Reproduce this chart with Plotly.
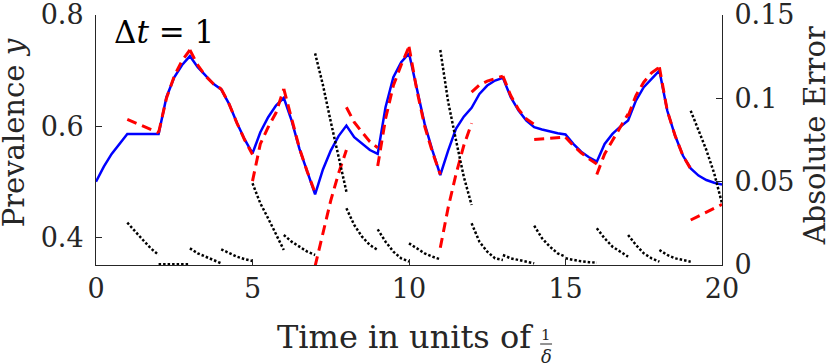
import numpy as np
import plotly.graph_objects as go

# time grid, quarter steps, 0..20
t_grid = np.round(np.arange(0, 20.001, 0.25), 2)

# exact solution (blue), read at quarter points
prevalence_exact = [
    0.500, 0.527, 0.550, 0.569, 0.586,
    0.586, 0.586, 0.586, 0.586,
    0.652, 0.688, 0.710, 0.726,
    0.706, 0.690, 0.676, 0.666,
    0.640, 0.606, 0.576, 0.551,
    0.589, 0.616, 0.637, 0.651,
    0.610, 0.559, 0.519, 0.477,
    0.522, 0.556, 0.582, 0.601,
    0.580, 0.568, 0.557, 0.550,
    0.634, 0.688, 0.715, 0.731,
    0.670, 0.604, 0.556, 0.512,
    0.556, 0.595, 0.617, 0.633,
    0.658, 0.673, 0.682, 0.687,
    0.652, 0.628, 0.610, 0.598,
    0.594, 0.590, 0.587, 0.585,
    0.568, 0.554, 0.544, 0.536,
    0.568, 0.586, 0.599, 0.610,
    0.646, 0.670, 0.685, 0.700,
    0.628, 0.583, 0.547, 0.524,
    0.511, 0.503, 0.498, 0.495,
]

# approximation (red dashed), one list per unit interval [k, k+1], 5 samples each
approx_start = list(range(1, 20))
prevalence_approx = [
    [0.612, 0.606, 0.600, 0.594, 0.588],
    [0.588, 0.650, 0.690, 0.718, 0.737],
    [0.737, 0.710, 0.690, 0.676, 0.667],
    [0.667, 0.640, 0.606, 0.575, 0.549],
    [0.501, 0.568, 0.598, 0.624, 0.667],
    [0.667, 0.615, 0.560, 0.518, 0.480],
    [0.348, 0.410, 0.466, 0.515, 0.557],
    [0.634, 0.607, 0.589, 0.572, 0.561],
    [0.528, 0.613, 0.673, 0.710, 0.743],
    [0.743, 0.665, 0.600, 0.553, 0.513],
    [0.381, 0.453, 0.513, 0.565, 0.605],
    [0.661, 0.674, 0.681, 0.686, 0.690],
    [0.690, 0.655, 0.630, 0.613, 0.603],
    [0.576, 0.577, 0.578, 0.579, 0.580],
    [0.580, 0.565, 0.552, 0.541, 0.532],
    [0.513, 0.550, 0.574, 0.597, 0.622],
    [0.618, 0.655, 0.679, 0.696, 0.706],
    [0.706, 0.628, 0.583, 0.547, 0.523],
    [0.431, 0.438, 0.445, 0.452, 0.459],
]

# absolute error (black dotted, right axis)
abs_error = [
    [0.0254, 0.020, 0.015, 0.010, 0.006],
    [0.0005, 0.0005, 0.0005, 0.0005, 0.0005],
    [0.010, 0.007, 0.005, 0.003, 0.001],
    [0.0094, 0.007, 0.005, 0.0035, 0.0024],
    [0.049, 0.037, 0.028, 0.018, 0.009],
    [0.018, 0.014, 0.011, 0.008, 0.006],
    [0.127, 0.108, 0.086, 0.065, 0.044],
    [0.034, 0.024, 0.017, 0.012, 0.009],
    [0.0214, 0.014, 0.008, 0.004, 0.002],
    [0.013, 0.010, 0.007, 0.005, 0.0034],
    [0.129, 0.098, 0.075, 0.053, 0.036],
    [0.025, 0.014, 0.008, 0.004, 0.003],
    [0.006, 0.004, 0.003, 0.002, 0.001],
    [0.0236, 0.016, 0.011, 0.007, 0.005],
    [0.004, 0.003, 0.0022, 0.0017, 0.0014],
    [0.022, 0.016, 0.011, 0.008, 0.005],
    [0.018, 0.012, 0.007, 0.004, 0.002],
    [0.009, 0.006, 0.004, 0.003, 0.002],
    [0.0926, 0.081, 0.069, 0.055, 0.037],
]

x_ticks = [0, 5, 10, 15, 20]
y_ticks = [0.4, 0.6, 0.8]
y2_ticks = [0, 0.05, 0.1, 0.15]
y2_ticktext = ['0', '0.05', '0.1', '0.15']


def segments(starts, values):
    xs, ys = [], []
    for k, vals in zip(starts, values):
        xs += [k + 0.25 * j for j in range(len(vals))] + [None]
        ys += list(vals) + [None]
    return xs, ys


FONT = "DejaVu Serif"
INK = '#262626'

fig = go.Figure()

fig.add_trace(go.Scatter(
    x=t_grid, y=prevalence_exact, mode='lines',
    line=dict(color='#0000ff', width=2.5), showlegend=False))

rx, ry = segments(approx_start, prevalence_approx)
fig.add_trace(go.Scatter(
    x=rx, y=ry, mode='lines', connectgaps=False,
    line=dict(color='#ff0000', width=3, dash='10px,6px'), showlegend=False))

ex, ey = segments(approx_start, abs_error)
fig.add_trace(go.Scatter(
    x=ex, y=ey, mode='lines', connectgaps=False, yaxis='y2',
    line=dict(color='black', width=2.5, dash='2.5px,2px'), showlegend=False))

axis_common = dict(
    showgrid=False, zeroline=False, showline=True, linecolor=INK, linewidth=1,
    ticks='inside', ticklen=6, tickcolor=INK, ticklabeloverflow='allow', automargin=False,
    tickfont=dict(family=FONT, size=27, color=INK),
)

fig.update_layout(
    width=830, height=364,
    margin=dict(l=96, r=108, t=15, b=99),
    plot_bgcolor='white', paper_bgcolor='white',
    xaxis=dict(range=[0, 20], tickvals=x_ticks, **axis_common),
    yaxis=dict(range=[0.35, 0.8], tickvals=y_ticks, ticklabelstandoff=6, **axis_common),
    yaxis2=dict(range=[0, 0.15], tickvals=y2_ticks, ticktext=y2_ticktext,
                overlaying='y', side='right', ticklabelstandoff=6, **axis_common),
)

ann_font = dict(family=FONT, size=29, color=INK)
fig.add_annotation(text="Δ<i>t</i> = 1", xref='paper', yref='paper', x=0.025, y=0.93,
                   xanchor='left', yanchor='middle', showarrow=False,
                   font=dict(family=FONT, size=31, color='black'))
fig.add_annotation(text="Prevalence <i>y</i>", xref='paper', yref='paper', x=-0.1305, y=0.528,
                   textangle=-90, xanchor='center', yanchor='middle', showarrow=False, font=ann_font)
fig.add_annotation(text="Absolute Error", xref='paper', yref='paper', x=1.149, y=0.516,
                   textangle=-90, xanchor='center', yanchor='middle', showarrow=False, font=ann_font)
fig.add_annotation(text="Time in units of", xref='paper', yref='paper', x=0.702, y=-0.288,
                   xanchor='right', yanchor='middle', showarrow=False,
                   font=dict(family=FONT, size=32, color=INK))
# fraction 1/δ
fig.add_annotation(text="1", xref='paper', yref='paper', x=0.719, y=-0.28,
                   xanchor='center', yanchor='middle', showarrow=False,
                   font=dict(family=FONT, size=15, color=INK))
fig.add_annotation(text="<i>δ</i>", xref='paper', yref='paper', x=0.719, y=-0.368,
                   xanchor='center', yanchor='middle', showarrow=False,
                   font=dict(family=FONT, size=18, color=INK))
fig.add_shape(type='line', xref='paper', yref='paper', x0=0.7095, x1=0.7285, y0=-0.316, y1=-0.316,
              line=dict(color=INK, width=1))

# the default page body has an 8px margin; drop it so the figure fills the window
fig.write_html("out.html", config={'displayModeBar': False},
               post_script="document.body.style.margin='0px';")
